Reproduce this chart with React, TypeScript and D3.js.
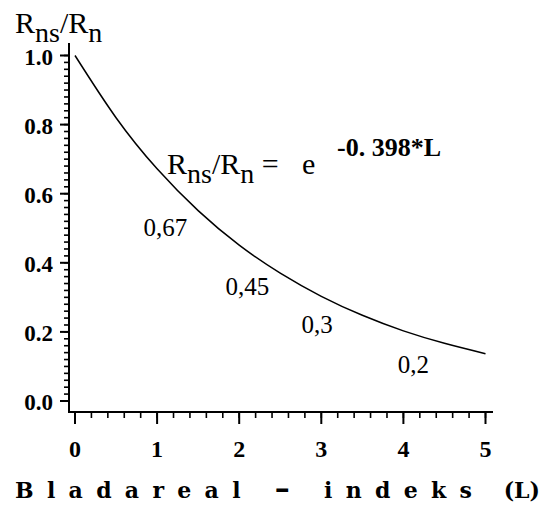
import React from "react";
import * as d3 from "d3";

// leaf area index (L) and relative value
const lai = [0, 0.5, 1, 1.5, 2, 2.5, 3, 3.5, 4, 4.5, 5];
const ratio = [1.0, 0.82, 0.672, 0.551, 0.451, 0.37, 0.303, 0.248, 0.203, 0.167, 0.137];

const xTicks = [0, 1, 2, 3, 4, 5];
const yTicks = [0, 0.2, 0.4, 0.6, 0.8, 1.0];
const yTickLabels = ["0.0", "0.2", "0.4", "0.6", "0.8", "1.0"];

// value labels written under the curve
const noteText = ["0,67", "0,45", "0,3", "0,2"];
const noteAtL = [1.1, 2.1, 2.95, 4.12];
const noteAtV = [0.477, 0.306, 0.197, 0.081];

const serif = "'Liberation Serif', 'Times New Roman', serif";

export default function App() {
  const x = d3.scaleLinear().domain([0, 5]).range([75, 485.5]);
  const y = d3.scaleLinear().domain([0, 1]).range([401, 55.5]);

  const axisX = 69; // y axis line
  const axisY = 412; // x axis line

  const pts: [number, number][] = lai.map((l, i) => [l, ratio[i]]);
  const line = d3
    .line<[number, number]>()
    .x((d) => x(d[0]))
    .y((d) => y(d[1]))
    .curve(d3.curveNatural);

  const yMinor = d3.range(0, 1.0001, 0.02);
  const xMinor = d3.range(0, 5.0001, 0.2);

  return (
    <svg width={544} height={517} style={{ position: "absolute", left: 0, top: 0, background: "#fff" }}>
      {/* axis lines */}
      <line x1={axisX} y1={43} x2={axisX} y2={axisY + 1} stroke="#000" strokeWidth={2} />
      <line x1={axisX - 1} y1={axisY} x2={493} y2={axisY} stroke="#000" strokeWidth={2} />

      {/* y ticks */}
      {yMinor.map((t, i) => (
        <line key={"ym" + i} x1={axisX - 5} x2={axisX} y1={y(t)} y2={y(t)} stroke="#000" strokeWidth={1.6} />
      ))}
      {yTicks.map((t, i) => (
        <g key={"y" + i}>
          <line x1={axisX - 9} x2={axisX} y1={y(t)} y2={y(t)} stroke="#000" strokeWidth={2} />
          <text x={53} y={y(t) + 9} textAnchor="end" fontFamily={serif} fontWeight="bold" fontSize={23}>
            {yTickLabels[i]}
          </text>
        </g>
      ))}

      {/* x ticks */}
      {xMinor.map((t, i) => (
        <line key={"xm" + i} x1={x(t)} x2={x(t)} y1={axisY} y2={axisY + 6} stroke="#000" strokeWidth={1.6} />
      ))}
      {xTicks.map((t) => (
        <g key={"x" + t}>
          <line x1={x(t)} x2={x(t)} y1={axisY} y2={axisY + 12} stroke="#000" strokeWidth={2} />
          <text x={x(t)} y={457} textAnchor="middle" fontFamily={serif} fontWeight="bold" fontSize={24}>
            {t}
          </text>
        </g>
      ))}

      {/* curve */}
      <path d={line(pts) || ""} fill="none" stroke="#000" strokeWidth={1.5} />

      {/* y title */}
      <text x={15} y={33} fontFamily={serif} fontSize={30}>
        R<tspan dy={9} fontSize={28}>ns</tspan>
        <tspan dy={-9}>/R</tspan>
        <tspan dy={9} fontSize={28}>n</tspan>
      </text>

      {/* formula */}
      <text x={167} y={174} fontFamily={serif} fontSize={30}>
        R<tspan dy={9} fontSize={28}>ns</tspan>
        <tspan dy={-9}>/R</tspan>
        <tspan dy={9} fontSize={28}>n</tspan>
        <tspan dy={-9}> = </tspan>
      </text>
      <text x={302} y={174} fontFamily={serif} fontSize={30}>
        e
      </text>
      <text x={337} y={156} fontFamily={serif} fontWeight="bold" fontSize={26}>
        -0. 398*L
      </text>

      {/* value notes */}
      {noteText.map((t, i) => (
        <text key={t} x={x(noteAtL[i])} y={y(noteAtV[i])} textAnchor="middle" fontFamily={serif} fontSize={25}>
          {t}
        </text>
      ))}

      {/* x title */}
      <text
        x={15}
        y={498}
        fontFamily="'DejaVu Serif', serif"
        fontWeight="bold"
        fontSize={22}
        textLength={457}
        lengthAdjust="spacing"
      >
        Bladareal <tspan fontSize={30} fontWeight="900">–</tspan> indeks
      </text>
      <text x={540} y={498} textAnchor="end" fontFamily="'DejaVu Serif', serif" fontWeight="bold" fontSize={22}>
        (L)
      </text>
    </svg>
  );
}
